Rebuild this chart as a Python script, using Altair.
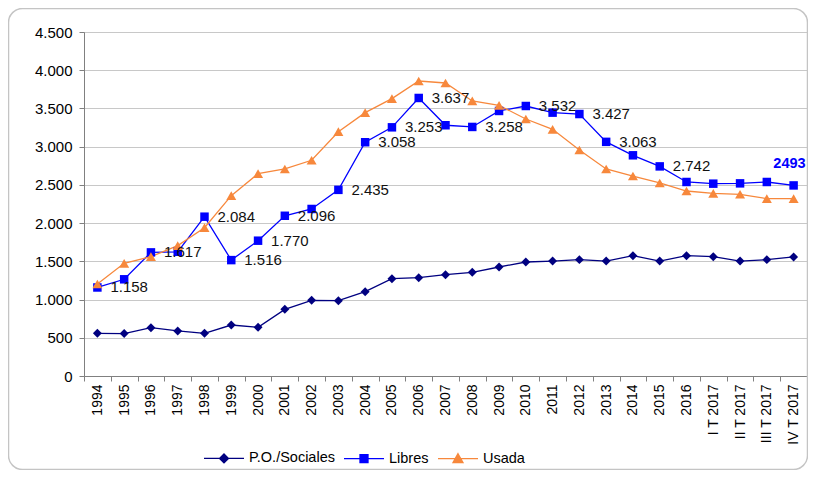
import altair as alt
import pandas as pd

cats = [str(y) for y in range(1994, 2017)] + ["I T 2017", "II T 2017", "III T 2017", "IV T 2017"]
po_sociales = [558, 555, 632, 589, 558, 667, 637, 872, 990, 985, 1103, 1273, 1286, 1325, 1356,
               1426, 1491, 1504, 1522, 1504, 1574, 1504, 1574, 1561, 1504, 1522, 1557]
libres = [1158, 1265, 1617, 1625, 2084, 1516, 1770, 2096, 2185, 2435, 3058, 3253, 3637, 3280, 3258,
          3467, 3532, 3445, 3427, 3063, 2887, 2742, 2538, 2516, 2520, 2538, 2493]
usada = [1203, 1474, 1561, 1705, 1940, 2359, 2647, 2708, 2822, 3196, 3445, 3628, 3859, 3833, 3598,
         3541, 3362, 3227, 2956, 2708, 2616, 2525, 2420, 2390, 2377, 2320, 2320]
labeled_libres = ["1994", "1996", "1998", "1999", "2000", "2001", "2003", "2004", "2005", "2006",
                  "2008", "2010", "2012", "2013", "2015"]
last_label_cat = "IV T 2017"

series_names = ["P.O./Sociales", "Libres", "Usada"]
series_colors = ["#000080", "#0000FF", "#F7883C"]
series_shapes = ["diamond", "square", "triangle-up"]
series_sizes = [80, 72, 100]
legend_paths = [
    "M-1,0H1M0,-0.225L0.225,0L0,0.225L-0.225,0Z",
    "M-1,0H1M-0.2,-0.2H0.2V0.2H-0.2Z",
    "M-1,0H1M0,-0.25L0.25,0.2L-0.25,0.2Z",
]
y_ticks = list(range(0, 4501, 500))

rows = []
for name, vals in zip(series_names, [po_sociales, libres, usada]):
    for c, v in zip(cats, vals):
        rows.append({"cat": c, "serie": name, "valor": v})
df = pd.DataFrame(rows)

lib_df = pd.DataFrame({"cat": cats, "valor": libres})
lib_df["txt"] = lib_df["valor"].map(lambda v: f"{v:,}".replace(",", "."))
lab_df = lib_df[lib_df["cat"].isin(labeled_libres)]
last_df = lib_df[lib_df["cat"] == last_label_cat].assign(txt=lambda d: d["valor"].astype(str))

FONT = "Liberation Sans"

x_enc = alt.X("cat:N", sort=cats,
              scale=alt.Scale(type="band", domain=cats, paddingInner=0, paddingOuter=0),
              axis=alt.Axis(title=None, labelAngle=-90, tickBand="extent", grid=False,
                            labelPadding=3, tickSize=5, labelFontSize=14, labelColor="#000000",
                            domainColor="#808080", tickColor="#808080", labelFont=FONT))
y_enc = alt.Y("valor:Q",
              scale=alt.Scale(domain=[0, 4500], nice=False),
              axis=alt.Axis(title=None, values=y_ticks,
                            labelExpr="replace(format(datum.value, ','), ',', '.')",
                            gridColor="#c8c8c8", domainColor="#808080", tickColor="#808080",
                            tickSize=5, labelPadding=7, labelFontSize=15, labelColor="#000000",
                            labelFont=FONT))

frame = alt.Chart(pd.DataFrame({"a": [0]})).mark_rect(
    fill="white", fillOpacity=0, stroke="#c4c4c4", strokeWidth=1.5, cornerRadius=14
).encode(x=alt.value(-75.5), x2=alt.value(723.5), y=alt.value(-23.5), y2=alt.value(437.5))

series_layers = []
for name, col, shp, sz in zip(series_names, series_colors, series_shapes, series_sizes):
    base = alt.Chart(df).transform_filter(alt.datum.serie == name)
    series_layers.append(base.mark_line(strokeWidth=1.3, color=col).encode(x=x_enc, y=y_enc))
for name, col, shp, sz in zip(series_names, series_colors, series_shapes, series_sizes):
    base = alt.Chart(df).transform_filter(alt.datum.serie == name)
    series_layers.append(
        base.mark_point(shape=shp, filled=True, size=sz, color=col, opacity=1).encode(x=x_enc, y=y_enc)
    )

leg = alt.Legend(orient="none", legendX=119, legendY=405, direction="horizontal", title=None,
                 labelFontSize=14.5, labelFont=FONT, labelColor="#000000", symbolSize=1600,
                 symbolStrokeWidth=1.3, symbolOpacity=1, labelOffset=4, columnPadding=6, padding=0)
legend_layer = alt.Chart(df).mark_point(filled=True, strokeWidth=1.3, size=0, opacity=1).encode(
    x=x_enc, y=y_enc,
    shape=alt.Shape("serie:N", scale=alt.Scale(domain=series_names, range=legend_paths), legend=leg),
    fill=alt.Fill("serie:N", scale=alt.Scale(domain=series_names, range=series_colors), legend=leg),
    stroke=alt.Stroke("serie:N", scale=alt.Scale(domain=series_names, range=series_colors), legend=leg),
)

labels = alt.Chart(lab_df).mark_text(
    align="left", baseline="middle", dx=13, fontSize=15, font=FONT, color="#111111"
).encode(x=x_enc, y=y_enc, text="txt:N")

last_label = alt.Chart(last_df).mark_text(
    align="right", baseline="middle", dx=12, dy=-21, fontSize=14.5, font=FONT, fontWeight="bold",
    color="#0000FF"
).encode(x=x_enc, y=y_enc, text="txt:N")

chart = alt.layer(frame, *series_layers, legend_layer, labels, last_label).properties(
    width=723, height=344,
    padding={"left": 76, "top": 24, "right": 1, "bottom": 94},
    autosize=alt.AutoSizeParams(type="none"),
    background="white",
).configure_view(stroke="#c8c8c8", strokeWidth=1)

chart.save("out.html", embed_options={"renderer": "svg", "actions": False})
